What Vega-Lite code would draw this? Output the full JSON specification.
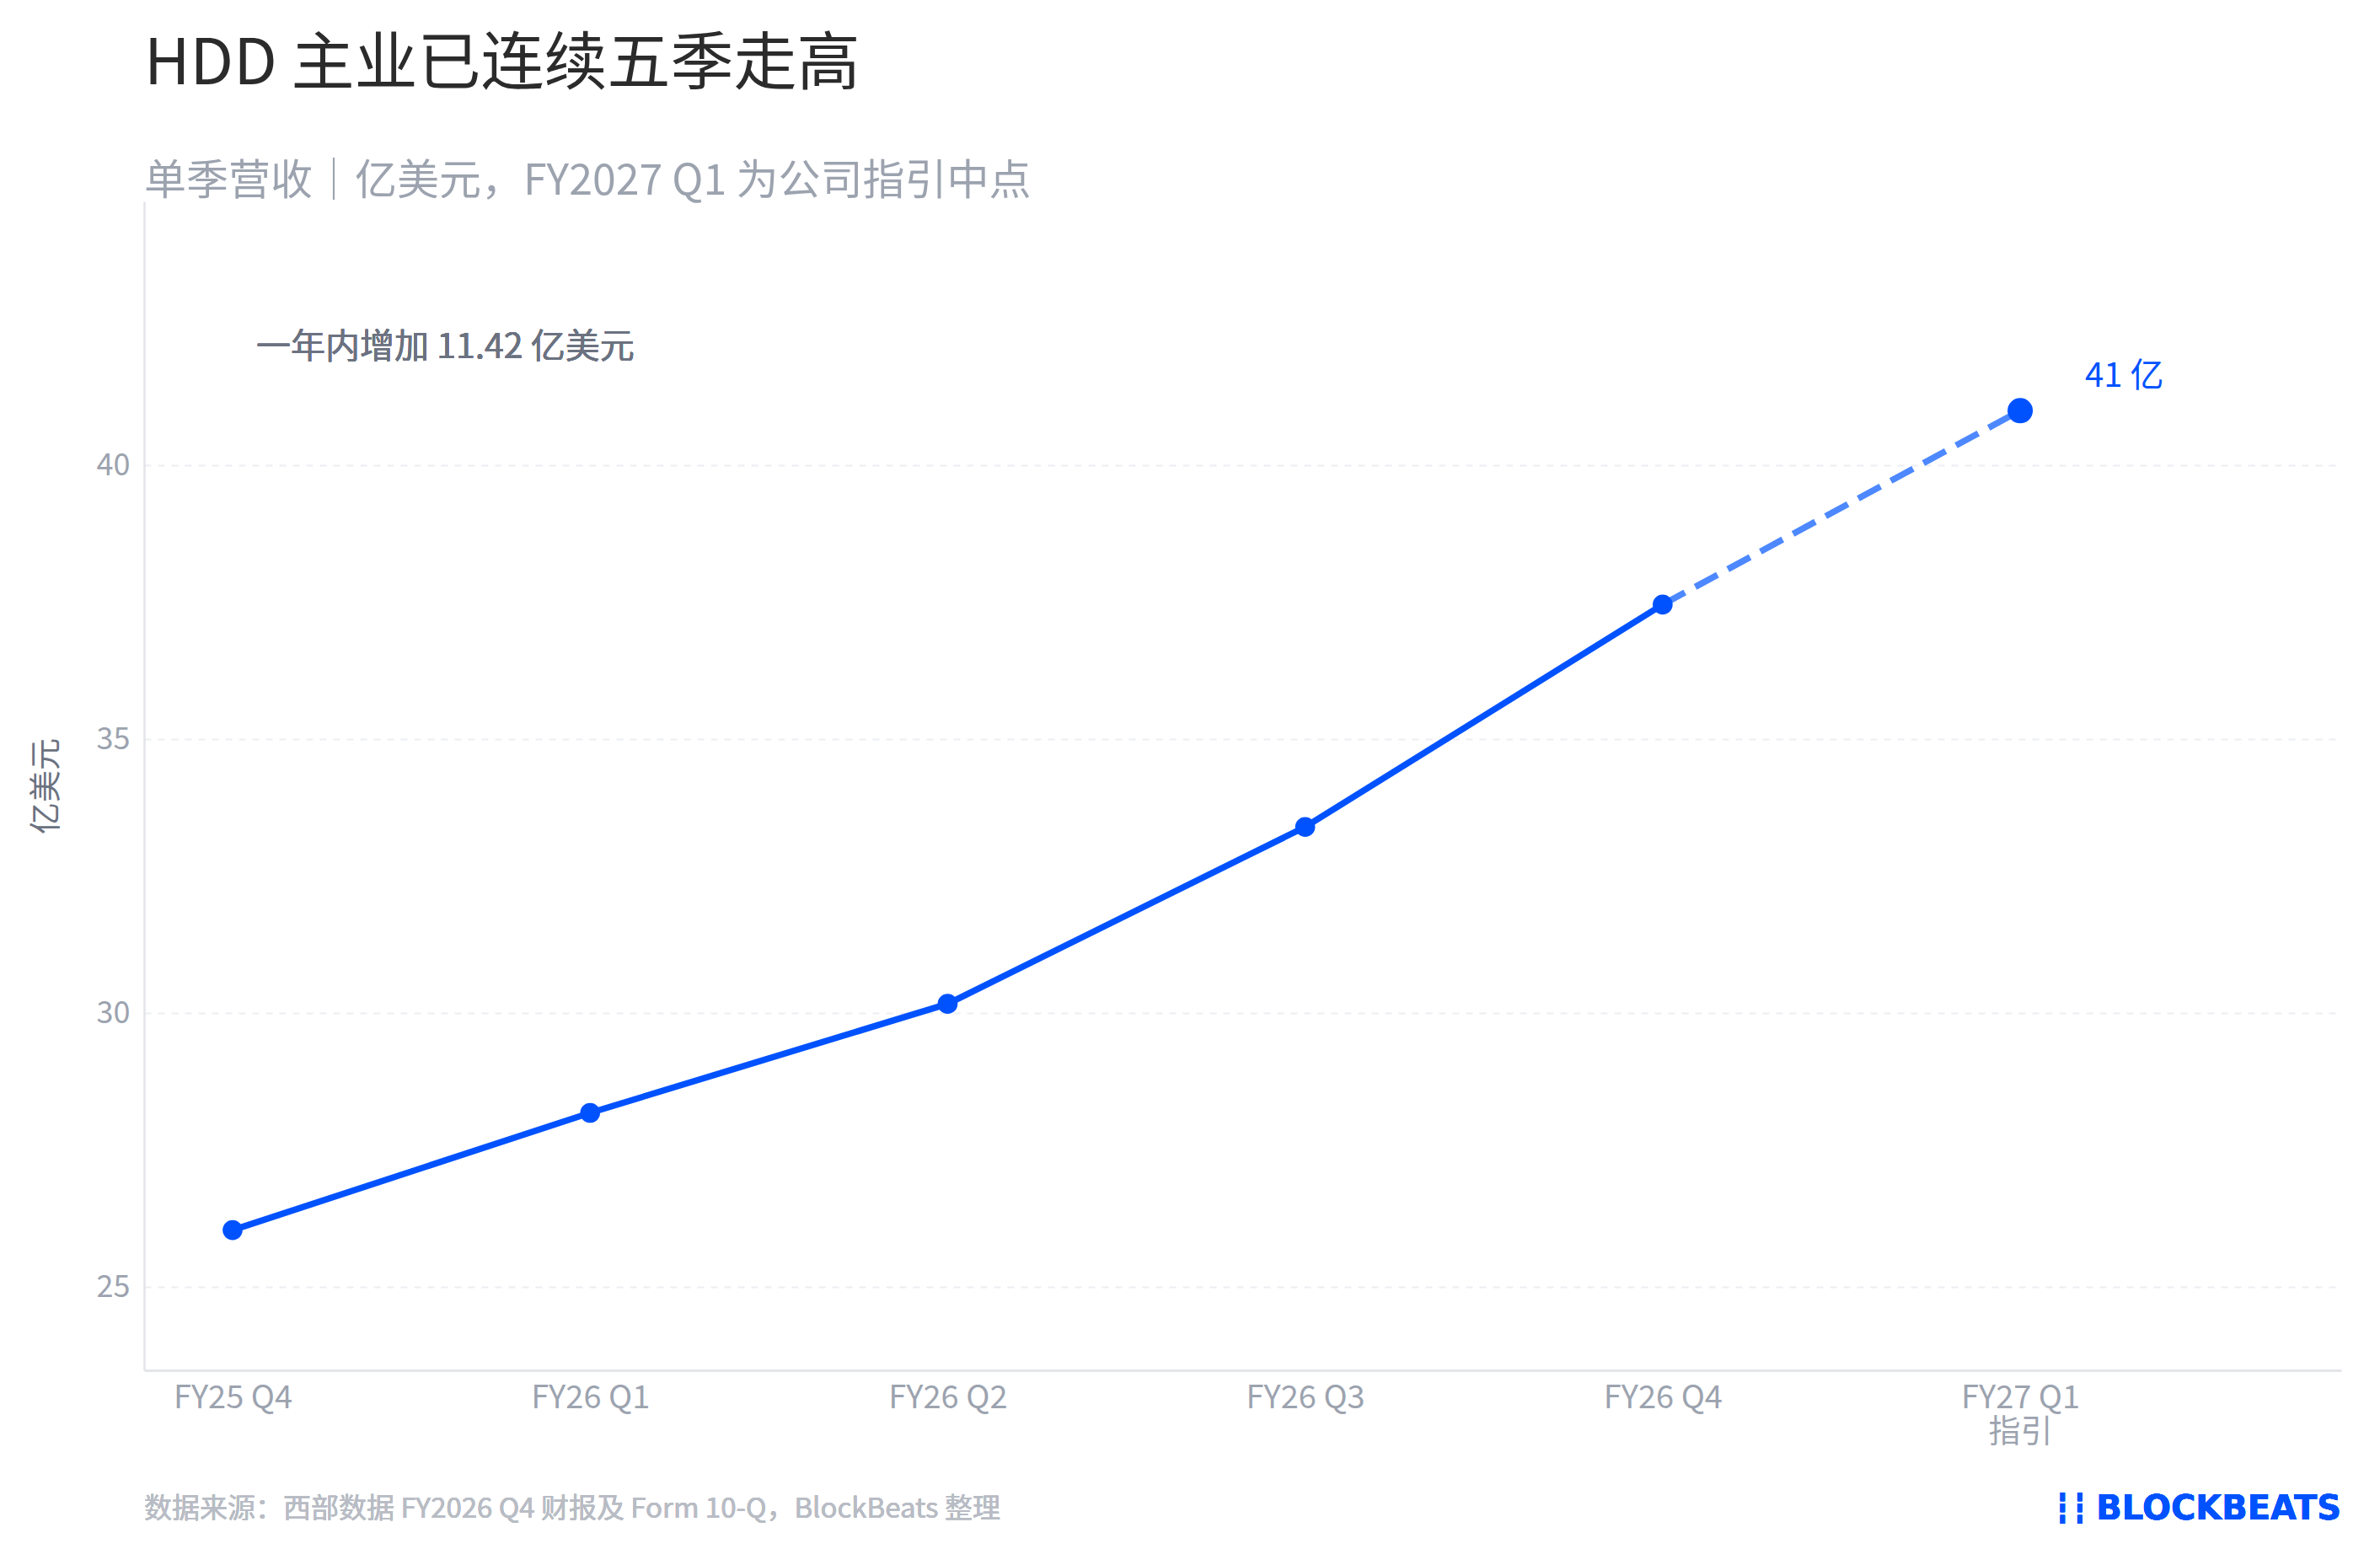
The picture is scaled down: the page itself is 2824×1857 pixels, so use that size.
{
  "$schema": "https://vega.github.io/schema/vega-lite/v6.json",
  "autosize": "none",
  "width": 2607,
  "height": 1387,
  "padding": {"left": 171, "top": 239, "right": 46, "bottom": 231},
  "background": "white",
  "config": {
    "font": "Noto Sans CJK SC",
    "view": {"stroke": null},
    "title": {
      "anchor": "start",
      "frame": "group",
      "fontSize": 75,
      "fontWeight": "normal",
      "color": "#2b2b2b",
      "subtitleFontSize": 50,
      "subtitleColor": "#9ca3af",
      "subtitlePadding": 75,
      "offset": -3
    }
  },
  "title": {
    "text": "HDD 主业已连续五季走高",
    "subtitle": "单季营收｜亿美元，FY2027 Q1 为公司指引中点"
  },
  "data": {
    "values": [
      {"q": "FY25 Q4", "idx": 0, "rev": 26.04},
      {"q": "FY26 Q1", "idx": 1, "rev": 28.18},
      {"q": "FY26 Q2", "idx": 2, "rev": 30.17},
      {"q": "FY26 Q3", "idx": 3, "rev": 33.4},
      {"q": "FY26 Q4", "idx": 4, "rev": 37.46},
      {"q": "FY27 Q1 指引", "idx": 5, "rev": 41.0}
    ]
  },
  "encoding": {
    "x": {
      "field": "idx",
      "type": "quantitative",
      "scale": {"domain": [-0.2475, 5.898], "nice": false, "zero": false},
      "axis": {
        "title": null,
        "values": [0, 1, 2, 3, 4, 5],
        "labelExpr": "[['FY25 Q4'], ['FY26 Q1'], ['FY26 Q2'], ['FY26 Q3'], ['FY26 Q4'], ['FY27 Q1', '指引']][datum.value]",
        "labelFontSize": 38,
        "labelColor": "#9ca3af",
        "labelPadding": 14,
        "labelLineHeight": 40,
        "ticks": false,
        "grid": false,
        "domainColor": "#e3e5ea",
        "domainWidth": 3
      }
    },
    "y": {
      "field": "rev",
      "type": "quantitative",
      "scale": {"domain": [23.48, 44.82], "nice": false, "zero": false},
      "axis": {
        "title": "亿美元",
        "titleFontSize": 38,
        "titleFontWeight": "normal",
        "titleColor": "#6b7280",
        "titlePadding": 40,
        "values": [25, 30, 35, 40],
        "labelFontSize": 36,
        "labelColor": "#9ca3af",
        "labelPadding": 17,
        "ticks": false,
        "domainColor": "#e3e5ea",
        "domainWidth": 2.5,
        "gridColor": "#eceef1",
        "gridDash": [8, 8],
        "gridWidth": 2
      }
    }
  },
  "layer": [
    {
      "transform": [{"filter": "datum.idx <= 4"}],
      "mark": {"type": "line", "color": "#0052ff", "strokeWidth": 7.5}
    },
    {
      "transform": [{"filter": "datum.idx >= 4"}],
      "mark": {"type": "line", "color": "#4d88ff", "strokeWidth": 7.5, "strokeDash": [30, 14]}
    },
    {
      "transform": [{"filter": "datum.idx <= 4"}],
      "mark": {"type": "point", "filled": true, "opacity": 1, "color": "#0052ff", "size": 560}
    },
    {
      "transform": [{"filter": "datum.idx == 5"}],
      "mark": {"type": "point", "filled": true, "opacity": 1, "color": "#0052ff", "size": 900}
    },
    {
      "transform": [{"filter": "datum.idx == 5"}],
      "mark": {"type": "text", "text": "41 亿", "align": "left", "baseline": "middle", "dx": 77, "dy": -40, "fontSize": 40, "color": "#0052ff"}
    },
    {
      "mark": {"type": "text", "text": "一年内增加 11.42 亿美元", "align": "left", "baseline": "middle", "dx": 28, "fontSize": 41, "color": "#6b7280"},
      "encoding": {"x": {"datum": 0}, "y": {"datum": 42.15}}
    },
    {
      "mark": {"type": "text", "text": "数据来源：西部数据 FY2026 Q4 财报及 Form 10-Q，BlockBeats 整理", "align": "left", "baseline": "middle", "fontSize": 33, "color": "#b8bcc4"},
      "encoding": {"x": {"datum": -0.2475}, "y": {"datum": 20.94}}
    },
    {
      "mark": {"type": "text", "text": "BLOCKBEATS", "align": "right", "baseline": "middle", "fontSize": 40, "fontWeight": "bold", "font": "DejaVu Sans", "color": "#0052ff"},
      "encoding": {"x": {"datum": 5.898}, "y": {"datum": 20.94}}
    },
    {
      "mark": {"type": "text", "text": "┇┇", "align": "right", "baseline": "middle", "dx": -300, "fontSize": 34, "fontWeight": "bold", "font": "DejaVu Sans", "color": "#0052ff"},
      "encoding": {"x": {"datum": 5.898}, "y": {"datum": 20.94}}
    }
  ]
}
